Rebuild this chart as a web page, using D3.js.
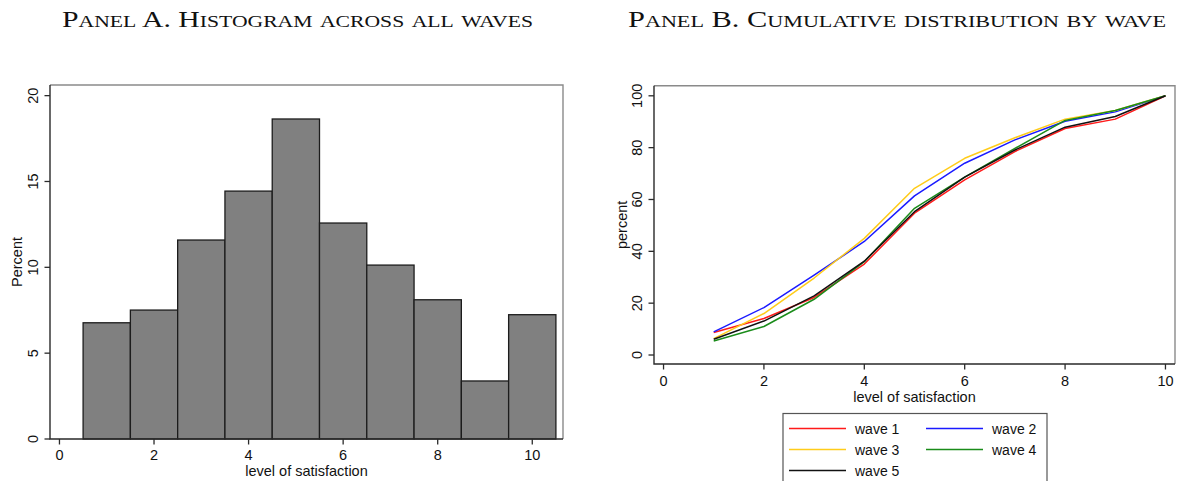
<!DOCTYPE html>
<html>
<head>
<meta charset="utf-8">
<script src="https://cdn.jsdelivr.net/npm/d3@7"></script>
<style>
  html, body { margin: 0; padding: 0; background: #fff; }
  svg { display: block; }
  .tick-label, .axis-title, .legend-label { font-family: "Liberation Sans", Arial, Helvetica, sans-serif; fill: #111; }
</style>
</head>
<body>
<svg id="chart" width="1179" height="481"></svg>
<script>
// Histogram: percent of responses at each satisfaction level, all waves pooled
const levels = [1, 2, 3, 4, 5, 6, 7, 8, 9, 10];
const histPercent = [6.77, 7.51, 11.59, 14.44, 18.64, 12.58, 10.13, 8.11, 3.38, 7.24];

// Cumulative percent by wave at each satisfaction level
const waveNames = ["wave 1", "wave 2", "wave 3", "wave 4", "wave 5"];
const wave1 = [8.7, 14.1, 22.2, 35.1, 54.7, 67.6, 78.5, 87.4, 91.0, 100];
const wave2 = [8.9, 18.3, 30.8, 43.8, 61.4, 74.0, 83.0, 90.2, 93.8, 100];
const wave3 = [6.3, 16.0, 29.7, 45.0, 64.3, 75.9, 83.8, 91.0, 94.3, 100];
const wave4 = [5.4, 11.0, 21.5, 36.0, 56.6, 68.6, 79.7, 90.5, 94.3, 100];
const wave5 = [6.1, 13.1, 22.8, 36.2, 55.3, 68.6, 79.1, 87.9, 92.0, 100];
const waveColors = ["#ff1a1a", "#1a1aff", "#ffcc1a", "#1a8c1a", "#111111"];

// Tick labels
const histXTicks = [0, 2, 4, 6, 8, 10];
const histYTicks = [0, 5, 10, 15, 20];
const cdfXTicks = [0, 2, 4, 6, 8, 10];
const cdfYTicks = [0, 20, 40, 60, 80, 100];

const titleA = "Panel A. Histogram across all waves";
const titleB = "Panel B. Cumulative distribution by wave";

const svg = d3.select("#chart");
svg.append("rect").attr("width", 1179).attr("height", 481).attr("fill", "#fff");

// Small-caps title: capitals at full size, lowercase letters as reduced capitals
function smallCapsTitle(text, cx, baseline, width) {
  const t = svg.append("text")
    .attr("x", cx).attr("y", baseline)
    .attr("text-anchor", "middle")
    .style("font-family", "'Liberation Serif', 'Times New Roman', serif")
    .style("fill", "#111");
  const parts = [];
  for (const ch of text) {
    const small = ch !== ch.toUpperCase();
    const last = parts[parts.length - 1];
    if (last && last.small === small) last.s += ch;
    else parts.push({ s: ch, small });
  }
  parts.forEach(p => {
    t.append("tspan")
      .style("font-size", p.small ? "17.5px" : "24px")
      .text(p.s.toUpperCase());
  });
  t.attr("textLength", width).attr("lengthAdjust", "spacingAndGlyphs");
}
smallCapsTitle(titleA, 297.5, 27, 471);
smallCapsTitle(titleB, 897, 27, 538);

function drawFrame(g, x0, x1, y0, y1) {
  // top and right of the plot region
  g.append("path")
    .attr("d", `M${x0},${y0}H${x1}V${y1}`)
    .attr("fill", "none").attr("stroke", "#8a8a8a").attr("stroke-width", 1.4);
  // left and bottom axis lines
  g.append("path")
    .attr("d", `M${x0},${y0}V${y1}H${x1}`)
    .attr("fill", "none").attr("stroke", "#2a2a2a").attr("stroke-width", 1.4);
}

function drawAxes(g, x, y, xTicks, yTicks, x0, y1, yLabelX, xLabelY) {
  const ax = g.append("g");
  xTicks.forEach(v => {
    ax.append("line").attr("x1", x(v)).attr("x2", x(v))
      .attr("y1", y1).attr("y2", y1 + 5.5)
      .attr("stroke", "#2a2a2a").attr("stroke-width", 1.3);
    ax.append("text").attr("class", "tick-label")
      .attr("x", x(v)).attr("y", xLabelY)
      .attr("text-anchor", "middle").attr("dy", "0.36em")
      .style("font-size", "14.5px").text(v);
  });
  yTicks.forEach(v => {
    ax.append("line").attr("x1", x0 - 5.5).attr("x2", x0)
      .attr("y1", y(v)).attr("y2", y(v))
      .attr("stroke", "#2a2a2a").attr("stroke-width", 1.3);
    ax.append("text").attr("class", "tick-label")
      .attr("transform", `translate(${yLabelX},${y(v)}) rotate(-90)`)
      .attr("text-anchor", "middle").attr("dy", "0.36em")
      .style("font-size", "14.5px").text(v);
  });
}

// ---------- Panel A: histogram ----------
{
  const L = 50, R = 563, T = 85, B = 439;
  const x = d3.scaleLinear().domain([-0.2, 10.65]).range([L, R]);
  const y = d3.scaleLinear().domain([0, 20.62]).range([B, T]);
  const g = svg.append("g");

  g.selectAll("rect.bar").data(levels).join("rect")
    .attr("class", "bar")
    .attr("x", d => x(d - 0.5))
    .attr("width", d => x(d + 0.5) - x(d - 0.5))
    .attr("y", (d, i) => y(histPercent[i]))
    .attr("height", (d, i) => y(0) - y(histPercent[i]))
    .attr("fill", "#808080")
    .attr("stroke", "#1c1c1c").attr("stroke-width", 1.3);

  drawFrame(g, L, R, T, B);
  drawAxes(g, x, y, histXTicks, histYTicks, L, B, 33, 455);

  g.append("text").attr("class", "axis-title")
    .attr("x", (L + R) / 2).attr("y", 471)
    .attr("text-anchor", "middle").attr("dy", "0.36em")
    .style("font-size", "14.5px").text("level of satisfaction");
  g.append("text").attr("class", "axis-title")
    .attr("transform", `translate(17,${(T + B) / 2}) rotate(-90)`)
    .attr("text-anchor", "middle").attr("dy", "0.36em")
    .style("font-size", "14.5px").text("Percent");
}

// ---------- Panel B: cumulative distribution ----------
{
  const L = 654, R = 1175, T = 85.7, B = 364;
  const x = d3.scaleLinear().domain([-0.19, 10.19]).range([L, R]);
  const y = d3.scaleLinear().domain([-3.47, 103.9]).range([B, T]);
  const g = svg.append("g");
  const series = [wave1, wave2, wave3, wave4, wave5];

  const line = d3.line()
    .x((d, i) => x(levels[i]))
    .y(d => y(d));

  g.selectAll("path.wave").data(series).join("path")
    .attr("class", "wave")
    .attr("d", line)
    .attr("fill", "none")
    .attr("stroke", (d, i) => waveColors[i])
    .attr("stroke-width", 1.5)
    .attr("stroke-linejoin", "round");

  drawFrame(g, L, R, T, B);
  drawAxes(g, x, y, cdfXTicks, cdfYTicks, L, B, 636.5, 381);

  g.append("text").attr("class", "axis-title")
    .attr("x", (L + R) / 2).attr("y", 397)
    .attr("text-anchor", "middle").attr("dy", "0.36em")
    .style("font-size", "14.5px").text("level of satisfaction");
  g.append("text").attr("class", "axis-title")
    .attr("transform", `translate(622,${(T + B) / 2}) rotate(-90)`)
    .attr("text-anchor", "middle").attr("dy", "0.36em")
    .style("font-size", "14.5px").text("percent");

  // Legend
  const lg = svg.append("g");
  lg.append("rect")
    .attr("x", 783).attr("y", 413.5).attr("width", 264).attr("height", 80)
    .attr("fill", "#fff").attr("stroke", "#555").attr("stroke-width", 1.2);
  const cols = [789, 926];
  const rows = [428.5, 449.5, 470.5];
  waveNames.forEach((name, i) => {
    const cx = cols[i % 2], cy = rows[Math.floor(i / 2)];
    lg.append("line")
      .attr("x1", cx).attr("x2", cx + 57)
      .attr("y1", cy).attr("y2", cy)
      .attr("stroke", waveColors[i]).attr("stroke-width", 1.5);
    lg.append("text").attr("class", "legend-label")
      .attr("x", cx + 66).attr("y", cy).attr("dy", "0.36em")
      .style("font-size", "14px").text(name);
  });
}
</script>
</body>
</html>
